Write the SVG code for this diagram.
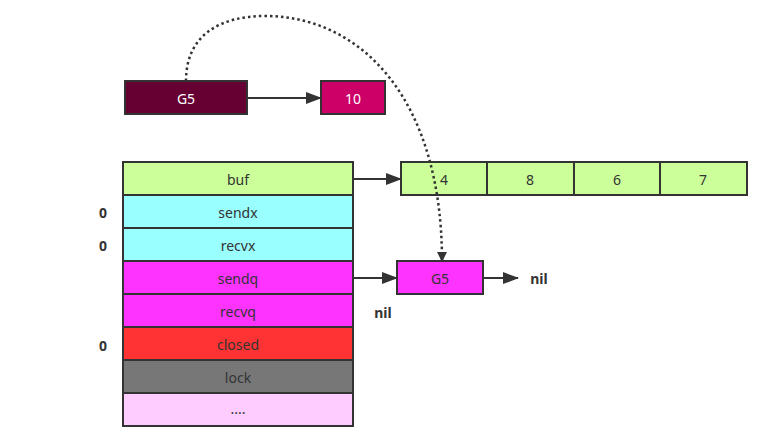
<svg xmlns="http://www.w3.org/2000/svg" width="766" height="440" viewBox="0 0 766 440">
<style>
.b{stroke:#333;stroke-width:2}
.t{font-family:"Noto Sans","Liberation Sans",sans-serif;font-size:14px;fill:#333;text-anchor:middle;dominant-baseline:central}
.w{fill:#fff}
.l{font-family:"Noto Sans","Liberation Sans",sans-serif;font-size:14px;font-weight:bold;fill:#333;text-anchor:middle;dominant-baseline:central}
.c{stroke:#333;stroke-width:2;fill:none}
.dot{stroke-width:2.5;stroke-dasharray:2.5,3}
</style>
<defs>
<marker id="a" markerWidth="16" markerHeight="12" refX="15" refY="6" orient="auto" markerUnits="userSpaceOnUse">
<path d="M0,0 L16,6 L0,12 Z" fill="#333"/>
</marker>
<marker id="d" markerWidth="10" markerHeight="10" refX="9" refY="5" orient="auto" markerUnits="userSpaceOnUse">
<path d="M0,0 L10,5 L0,10 Z" fill="#333"/>
</marker>
</defs>
<rect width="766" height="440" fill="#fff"/>
<g id="g5top"><rect class="b" x="125" y="81" width="122" height="33" fill="#660033"/><text class="t w" x="186" y="98">G5</text></g>
<g id="ten"><rect class="b" x="321" y="81" width="64" height="33" fill="#CC0066"/><text class="t w" x="353" y="98">10</text></g>
<g id="hchan">
<g id="buf"><rect class="b" x="123" y="162" width="230" height="33" fill="#CCFF99"/><text class="t" x="238" y="179">buf</text></g>
<g id="sendx"><rect class="b" x="123" y="195" width="230" height="33" fill="#99FFFF"/><text class="t" x="238" y="212">sendx</text></g>
<g id="recvx"><rect class="b" x="123" y="228" width="230" height="33" fill="#99FFFF"/><text class="t" x="238" y="245">recvx</text></g>
<g id="sendq"><rect class="b" x="123" y="261" width="230" height="33" fill="#FF33FF"/><text class="t" x="238" y="278">sendq</text></g>
<g id="recvq"><rect class="b" x="123" y="294" width="230" height="33" fill="#FF33FF"/><text class="t" x="238" y="311">recvq</text></g>
<g id="closed"><rect class="b" x="123" y="327" width="230" height="33" fill="#FF3333"/><text class="t" x="238" y="344">closed</text></g>
<g id="lock"><rect class="b" x="123" y="360" width="230" height="33" fill="#777777"/><text class="t" x="238" y="377">lock</text></g>
<g id="more"><rect class="b" x="123" y="393" width="230" height="33" fill="#FFCCFF"/><text class="t" x="238" y="408">....</text></g>
</g>
<g id="bufarr">
<g id="c4"><rect class="b" x="401" y="162" width="86" height="33" fill="#CCFF99"/><text class="t" x="444" y="179">4</text></g>
<g id="c8"><rect class="b" x="487" y="162" width="87" height="33" fill="#CCFF99"/><text class="t" x="530" y="179">8</text></g>
<g id="c6"><rect class="b" x="574" y="162" width="86" height="33" fill="#CCFF99"/><text class="t" x="617" y="179">6</text></g>
<g id="c7"><rect class="b" x="660" y="162" width="87" height="33" fill="#CCFF99"/><text class="t" x="703" y="179">7</text></g>
</g>
<g id="g5q"><rect class="b" x="397" y="261" width="86" height="33" fill="#FF33FF"/><text class="t" x="440" y="278">G5</text></g>
<g id="labels">
<text class="l" x="103" y="212">0</text>
<text class="l" x="103" y="245">0</text>
<text class="l" x="103" y="345">0</text>
<text class="l" x="383" y="312">nil</text>
<text class="l" x="539" y="278">nil</text>
</g>
<g id="connectors">
<line class="c" x1="247" y1="98" x2="321" y2="98" marker-end="url(#a)"/>
<line class="c" x1="353" y1="179" x2="401" y2="179" marker-end="url(#a)"/>
<line class="c" x1="353" y1="278" x2="397" y2="278" marker-end="url(#a)"/>
<line class="c" x1="483" y1="278" x2="518" y2="278" marker-end="url(#a)"/>
<path class="c dot" d="M186,81 C186,35 220,16 265,16 C362,16 442,100 442,261" marker-end="url(#d)"/>
</g>
</svg>
